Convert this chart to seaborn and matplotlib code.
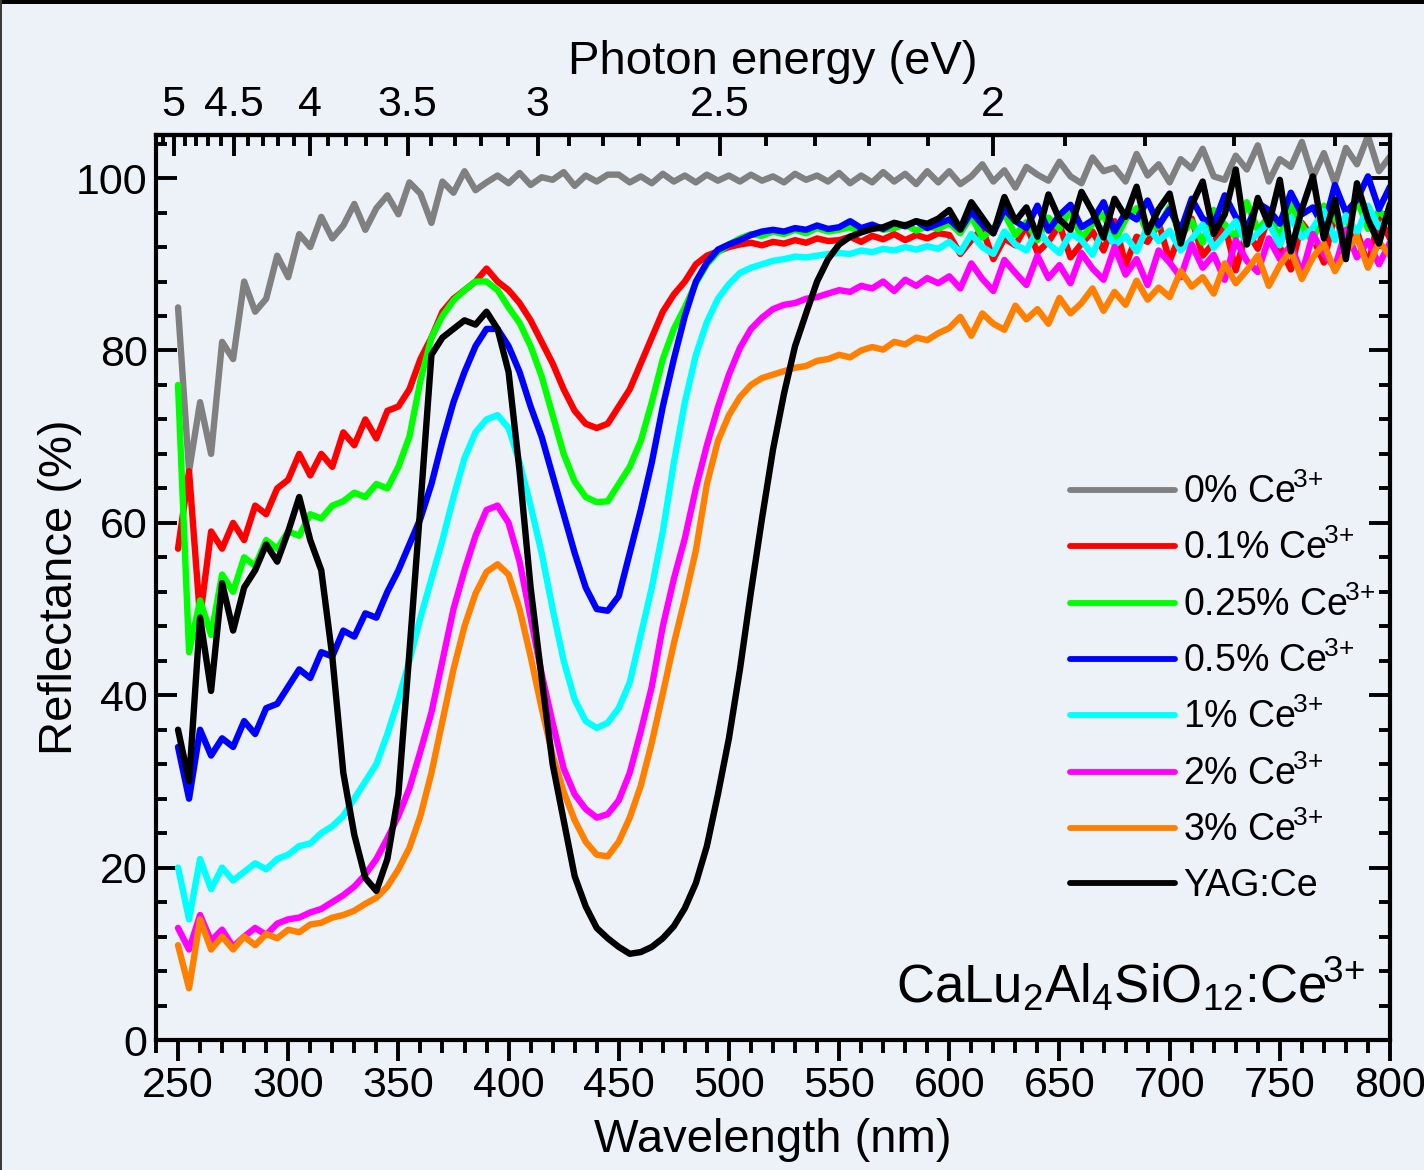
import numpy as np
import pandas as pd
import matplotlib
matplotlib.use("Agg")
import matplotlib.pyplot as plt
import seaborn as sns
from matplotlib.ticker import MultipleLocator, FixedLocator, FixedFormatter
from matplotlib.lines import Line2D
from matplotlib.patches import Rectangle

# ---------------------------------------------------------------- data
wavelength_nm = np.arange(250, 801, 5)

sample_labels = [
    r"0% Ce$^{\!3\!+}$", r"0.1% Ce$^{\!3\!+}$", r"0.25% Ce$^{\!3\!+}$", r"0.5% Ce$^{\!3\!+}$",
    r"1% Ce$^{\!3\!+}$", r"2% Ce$^{\!3\!+}$", r"3% Ce$^{\!3\!+}$", "YAG:Ce",
]
sample_colors = ["#808080", "#ff0000", "#00ff00", "#0000ff",
                 "#00ffff", "#ff00ff", "#ff8000", "#000000"]

refl_0 = [
    85, 66, 74, 68, 81, 79, 88, 84.5, 86, 91,
    88.5, 93.5, 92, 95.5, 93, 94.5, 97, 94, 96.5, 98,
    95.8, 99.5, 98.2, 94.8, 99.6, 98.3, 100.8, 98.6, 99.5, 100.3,
    99.4, 100.6, 99.2, 100.1, 99.8, 100.7, 99.1, 100.3, 99.6, 100.4,
    100.4, 99.5, 100.2, 99.4, 100.5, 99.6, 100.3, 99.5, 100.4, 99.7,
    100.3, 99.6, 100.4, 99.7, 100.2, 99.5, 100.5, 99.8, 100.3, 99.6,
    100.6, 99.4, 100.3, 99.5, 100.7, 99.6, 100.5, 99.3, 100.8, 99.5,
    100.8, 99.3, 100.2, 101.6, 99.6, 100.9, 98.9, 101.3, 100.4, 99.7,
    101.9, 100.2, 99.4, 102.4, 100.8, 101.2, 99.6, 102.8, 100.3, 101.6,
    99.5, 102.2, 101.1, 103.4, 100.2, 99.8, 102.6, 101, 103.8, 99.6,
    102.2, 101.3, 104.2, 100.1, 102.9, 99.4, 103.5, 101.6, 104.9, 100.8,
    102.5,
]
refl_01 = [
    57, 66, 49, 59, 57, 60, 58, 62, 61, 64,
    65, 68, 65.5, 68, 66.5, 70.5, 69, 72, 69.8, 73,
    73.5, 75.5, 79, 81.5, 84.5, 86, 87, 88, 89.5, 88,
    87, 85.5, 83.5, 81, 78.5, 75.5, 73, 71.5, 71, 71.5,
    73.5, 75.5, 78.5, 81.5, 84.5, 86.5, 88, 90, 91, 91.5,
    92, 92.3, 92.5, 92.2, 92.6, 92.4, 92.8, 92.5, 93, 92.7,
    92.8, 93.2, 92.6, 93.3, 92.9, 93.5, 92.8, 93.4, 93, 93.6,
    93.4, 91.2, 92.8, 94.1, 90.6, 93, 92.2, 94.5, 91.4, 92.6,
    94.6, 90.8, 92.4, 93.8, 91.6, 95, 89.9, 93.2, 92.6, 94.8,
    90.4, 93.6, 95.3, 91, 92.5, 94.6, 89.3, 93.9, 91.8, 95.6,
    92, 89.4, 94.8, 93.1, 90.2, 96, 91.5, 93.8, 89.8, 95.4,
    93,
]
refl_025 = [
    76, 45, 51, 47, 54, 52, 56, 55, 58, 57,
    59, 58.5, 61, 60.5, 62, 62.5, 63.5, 63, 64.5, 64,
    66.5, 70, 76.5, 81.5, 84, 85.8, 87, 88, 88, 87,
    85, 83.2, 80.5, 77, 72.5, 68, 64.8, 63, 62.4, 62.5,
    64.5, 66.5, 69.5, 74, 79, 82.5, 85, 87.8, 90, 91.4,
    92.3, 93, 93.5, 93.3, 93.8, 93.5, 94, 93.6, 94.2, 93.8,
    94, 94.3, 93.8, 94.5, 94, 94.2, 94.6, 93.9, 94.4, 94.1,
    94.8, 93.6, 95.6, 93.1, 94.2, 95.9, 93.4, 94.9, 92.8, 95.4,
    94.1, 96.3, 93, 94.7, 95.8, 92.7, 95.2, 96.5, 93.6, 94.4,
    96.7, 93.2, 95, 92.5, 96.3, 94.6, 93.1, 97.2, 94, 95.5,
    93.2, 97, 94.5, 92.6, 96.8, 95.3, 93.4, 97.6, 94.1, 96.2,
    95,
]
refl_05 = [
    34, 28, 36, 33, 35, 34, 37, 35.5, 38.5, 39,
    41, 43, 42, 45, 44.5, 47.5, 46.8, 49.5, 49, 52,
    54.5, 57.5, 60.5, 64.5, 69.5, 74, 77.5, 80.5, 82.5, 82.5,
    80.5, 77.5, 73.5, 70, 65.5, 61, 56.5, 52.5, 50, 49.8,
    51.5, 56.5, 61.5, 67, 73.5, 79, 84, 88, 90.2, 91.7,
    92.3, 92.8, 93.4, 93.8, 94, 93.8, 94.2, 94, 94.5, 94.1,
    94.3, 95, 94.2, 94.6, 94.1, 94.8, 94.4, 95, 94.2, 94.7,
    95.2, 94, 96.1, 94.6, 93.6, 96.4, 95, 94.2, 96.8, 93.9,
    95.7, 96.9, 94.3, 95.1, 97.2, 93.8, 96, 95.2, 97.4, 94.5,
    96.4, 93.9, 97.6, 95.3, 94.6, 98, 95.5, 94.2, 97.1, 96.3,
    94.7, 98.3, 95.8, 96.6, 94.3, 99.2, 96, 97.5, 100.2, 96.4,
    99,
]
refl_1 = [
    20, 14, 21, 17.5, 20, 18.5, 19.5, 20.5, 19.8, 21,
    21.5, 22.5, 22.8, 24, 24.8, 26, 28, 30, 32, 35.5,
    39.5, 44, 49, 53.5, 58, 63, 67.5, 70.5, 72, 72.5,
    71, 67, 62, 56.5, 50, 44, 39.5, 37, 36.2, 36.8,
    38.5, 41.5, 47, 52.5, 59, 67, 74, 79.5, 83.3, 86,
    87.7, 89, 89.6, 90, 90.4, 90.6, 90.9, 90.8, 91, 91.2,
    91.3, 91.2, 91.6, 91.4, 91.8, 91.6, 92, 91.7, 92.1, 91.8,
    92.6, 91.4, 93.5, 92, 91.2, 93.8, 92.3, 91.6, 94, 92.4,
    91.3, 93.6, 92.8, 91.1, 94.2, 92.2, 93.3, 91.5, 94.4, 92.7,
    93.9, 91.6, 92.9, 94.6, 91.9, 93.4, 95, 92.3, 93.6, 94.8,
    92.2, 95.4, 93.1, 94.2, 96.2, 92.8, 95.7, 93.6, 96.8, 94.3,
    95.5,
]
refl_2 = [
    13, 10.5, 14.5, 11.5, 12.8, 10.8, 12, 13, 12.2, 13.5,
    14, 14.2, 14.8, 15.2, 16, 16.8, 17.8, 19.2, 21, 23.4,
    26, 29.2, 33.5, 38, 44, 50, 54.5, 58.5, 61.5, 62,
    60, 55.5, 49, 42.5, 36.8, 31.5, 28.5, 26.8, 25.8, 26.2,
    27.8, 31, 35.8, 41, 48, 53.5, 58.2, 64, 69, 73.4,
    77.2, 80.3, 82.5, 83.8, 84.8, 85.3, 85.5, 86, 86.2, 86.6,
    87, 86.8, 87.5, 87.2, 88, 86.9, 88.2, 87.5, 88.4, 87.8,
    88.6, 87.2, 90.1, 88.3, 86.9, 90.5, 89, 87.6, 91, 88.4,
    89.9, 87.8, 91.3, 89.5, 88.2, 92, 88.8, 90.6, 87.6, 91.6,
    90.2, 88.5, 92.3, 89.6, 91.1, 88.2, 92.8, 90.4, 89.1, 93,
    90.6, 92.2, 88.9, 93.5, 91.2, 89.6, 94, 90.8, 92.7, 90,
    92.5,
]
refl_3 = [
    11, 6, 14, 10.5, 12, 10.5, 12, 11, 12.3, 11.8,
    12.8, 12.5, 13.4, 13.6, 14.2, 14.5, 15, 15.8, 16.5, 17.8,
    19.8, 22.3, 26, 31, 37, 43, 48, 51.8, 54.3, 55.2,
    54, 50, 44.5, 38.5, 33, 28.8, 25.5, 23, 21.5, 21.3,
    23, 25.8, 29.5, 34.5, 40.2, 46, 51.2, 56.8, 64.5, 69.5,
    72.5, 74.6, 76, 76.8, 77.2, 77.6, 78, 78.2, 78.8, 79,
    79.5, 79.2, 80, 80.4, 80.1, 81, 80.7, 81.5, 81.2, 82,
    82.6, 83.9, 81.7, 84.3, 83.1, 82.4, 85.2, 83.6, 84.8, 83.1,
    86.1, 84.3, 85.5, 87.2, 84.6, 86.8, 85.3, 88.1, 85.9, 87.3,
    86.2, 89.2, 87.4, 88.5, 86.6, 90.1, 87.8, 89.3, 91, 87.5,
    89.9, 91.6, 88.3, 90.8, 92.4, 89.2, 91.5, 93.2, 89.6, 92.6,
    91,
]
refl_yag = [
    36, 30, 49, 40.5, 53, 47.5, 52.5, 54.5, 57.5, 55.5,
    59, 63, 58, 54.5, 44.5, 31, 23.8, 18.8, 17.3, 21,
    28.5, 45, 62, 79.5, 81.5, 82.5, 83.5, 83, 84.5, 82.5,
    77.5, 66, 52.5, 42, 32, 25.5, 19, 15.5, 13, 11.8,
    10.8, 10, 10.2, 10.8, 11.8, 13.2, 15.3, 18.2, 22.5, 28.5,
    35, 43, 52, 60.5, 68.5, 75, 80.5, 84.3, 88, 90.6,
    92.3, 93.2, 93.7, 94.1, 94.3, 94.8, 94.5, 95, 94.7, 95.3,
    96.3, 94.1, 97.2, 95.4, 93.6, 97.8, 95, 96.6, 93.2, 98.1,
    95.2, 94, 98.4, 96.1, 93.1, 97.6, 95.5, 99, 93.7, 96.4,
    98.2, 92.4, 96.9, 99.6, 93.5, 95.8, 101, 92.3, 97.7, 94.6,
    99.8, 91.5, 96.4, 100.2, 93, 97.5, 90.6, 99.4, 95.2, 92.4,
    97,
]

reflectance = [refl_0, refl_01, refl_025, refl_05, refl_1, refl_2, refl_3, refl_yag]

ev_major = [5, 4.5, 4, 3.5, 3, 2.5, 2]
ev_major_labels = ["5", "4.5", "4", "3.5", "3", "2.5", "2"]
ev_minor = np.round(np.arange(1.6, 5.15, 0.1), 1)

# long-form table for seaborn
df = pd.concat(
    [pd.DataFrame({"Wavelength": wavelength_nm, "Reflectance": vals, "Sample": lab})
     for lab, vals in zip(sample_labels, reflectance)],
    ignore_index=True,
)

# ---------------------------------------------------------------- style
BG = "#edf2f9"
sns.set_style("ticks")
plt.rcParams.update({
    "figure.facecolor": BG,
    "axes.facecolor": BG,
    "savefig.facecolor": BG,
    "axes.edgecolor": "black",
    "axes.linewidth": 3.0,
    "text.color": "black",
    "axes.labelcolor": "black",
    "xtick.color": "black",
    "ytick.color": "black",
    "mathtext.fontset": "custom",
    "mathtext.rm": "Liberation Sans",
    "mathtext.it": "Liberation Sans:italic",
    "mathtext.bf": "Liberation Sans:bold",
    "mathtext.default": "regular",
})
plt.rcParams["font.family"] = ["Liberation Sans", "DejaVu Sans"]

fig = plt.figure(figsize=(14.24, 11.70), dpi=100)
ax = fig.add_axes([156 / 1424, 1 - 1040 / 1170, 1234 / 1424, 905 / 1170])

sns.lineplot(data=df, x="Wavelength", y="Reflectance", hue="Sample",
             palette=dict(zip(sample_labels, sample_colors)),
             hue_order=sample_labels, estimator=None, sort=False,
             linewidth=4.6, legend=False, ax=ax)

ax.set_xlim(240, 800)
ax.set_ylim(0, 105)

TICK_FS = 31
ax.xaxis.set_major_locator(MultipleLocator(50))
ax.xaxis.set_minor_locator(MultipleLocator(10))
ax.yaxis.set_major_locator(MultipleLocator(20))
ax.yaxis.set_minor_locator(MultipleLocator(4))
ax.tick_params(axis="x", which="both", direction="out", top=False, bottom=True,
               width=2.8, labelsize=TICK_FS, pad=4)
ax.tick_params(axis="x", which="major", length=15)
ax.tick_params(axis="x", which="minor", length=9)
ax.tick_params(axis="y", which="both", direction="in", left=True, right=True,
               width=2.8, labelsize=TICK_FS, pad=6)
ax.tick_params(axis="y", which="major", length=15)
ax.tick_params(axis="y", which="minor", length=8)

ax.set_xlabel("Wavelength (nm)", fontsize=34, labelpad=8)
ax.set_ylabel("Reflectance (%)", fontsize=34, labelpad=-4)


def nm_ev(v):
    v = np.asarray(v, dtype=float)
    out = np.full_like(v, np.inf)
    np.divide(1239.84, v, out=out, where=v != 0)
    return out


sec = ax.secondary_xaxis("top", functions=(nm_ev, nm_ev))
sec.xaxis.set_major_locator(FixedLocator(ev_major))
sec.xaxis.set_major_formatter(FixedFormatter(ev_major_labels))
sec.xaxis.set_minor_locator(FixedLocator(ev_minor))
sec.tick_params(axis="x", which="both", direction="in", width=2.8,
                labelsize=TICK_FS, pad=7)
sec.tick_params(axis="x", which="major", length=15)
sec.tick_params(axis="x", which="minor", length=8)
sec.spines["top"].set_linewidth(3.0)
sec.set_xlabel("Photon energy (eV)", fontsize=34, labelpad=8)

handles = [Line2D([], [], color=c, linewidth=4.2) for c in sample_colors]
ax.legend(handles, sample_labels, loc="upper left",
          bbox_to_anchor=(0.7407, 0.626), frameon=False, fontsize=27,
          handlelength=2.8, handletextpad=0.22, labelspacing=0.5,
          borderpad=0, borderaxespad=0)

ax.text(0.98, 0.041, r"CaLu$_2$Al$_4$SiO$_{12}$:Ce$^{\!3\!+}$", transform=ax.transAxes,
        ha="right", va="baseline", fontsize=38)

# thin frame along the top and left edges of the canvas
fig.patches.append(Rectangle((0, 1 - 4 / 1170), 1, 4 / 1170, transform=fig.transFigure,
                             facecolor="black", edgecolor="none", zorder=10))
fig.patches.append(Rectangle((0, 0), 2 / 1424, 1, transform=fig.transFigure,
                             facecolor="#3a3a3a", edgecolor="none", zorder=10))

fig.savefig("out.png", dpi=100, facecolor=BG)
